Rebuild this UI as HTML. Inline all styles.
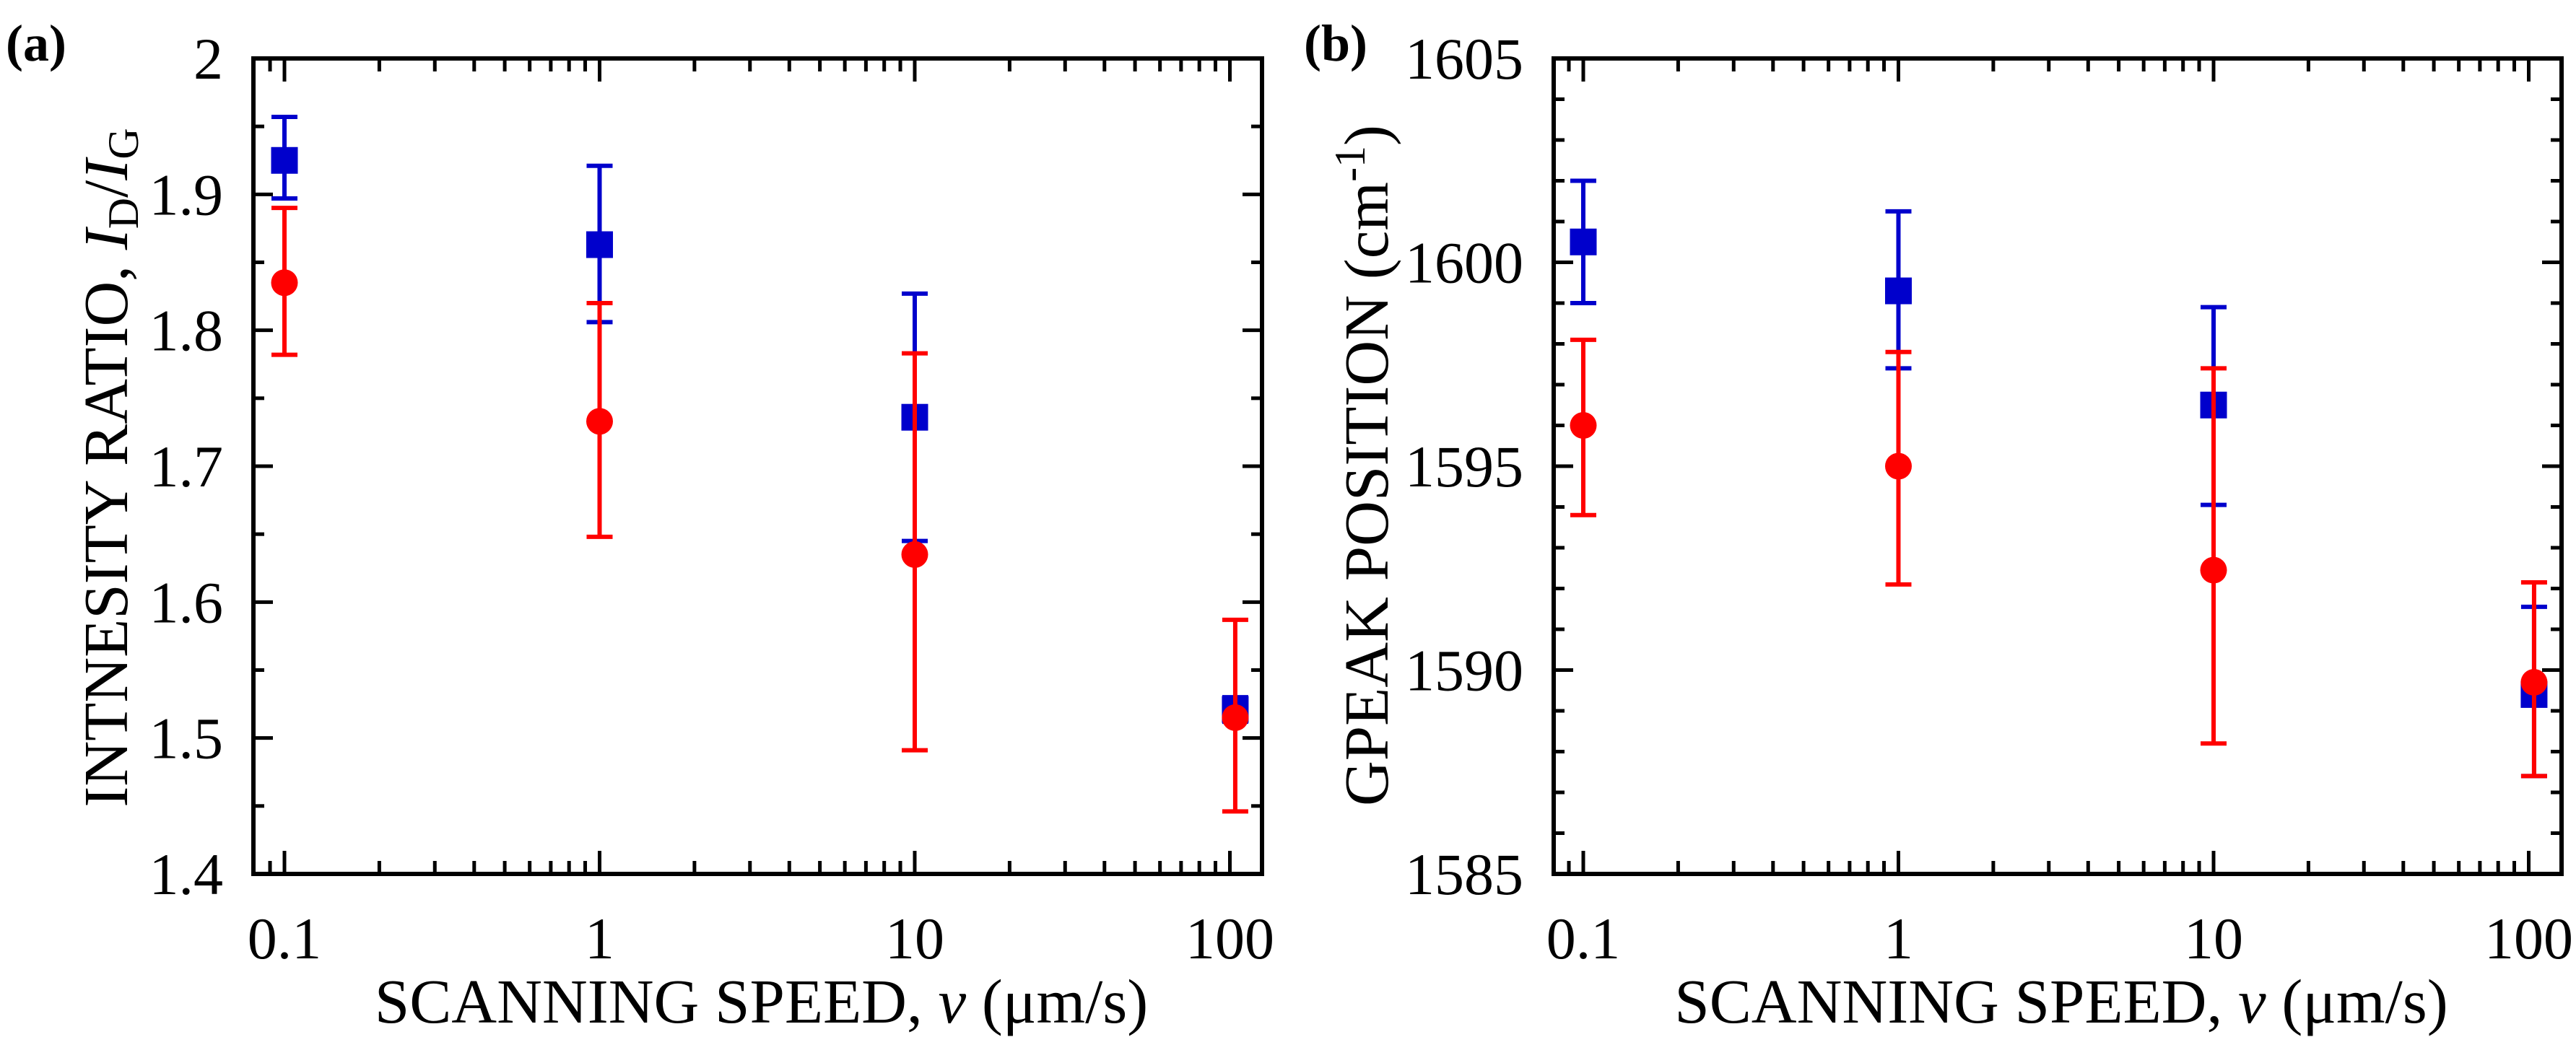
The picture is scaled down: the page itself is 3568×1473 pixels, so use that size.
<!DOCTYPE html>
<html><head><meta charset="utf-8"><style>
html,body{margin:0;padding:0;background:#fff}
svg{display:block;font-family:"Liberation Serif",serif}
</style></head><body>
<svg id="fig" width="3568" height="1473" viewBox="0 0 3568 1473">
<text x="8" y="84" font-size="72" font-weight="bold">(a)</text>
<text x="1806" y="84" font-size="72" font-weight="bold">(b)</text>
<g id="pa"></g>
<g id="pb"></g>
</svg>
<script>
const speeds = [0.1, 1, 10, 104];
const xTickLabels = ["0.1", "1", "10", "100"];
const aBlue = [1.925, 1.863, 1.736, 1.521];
const aBlueHi = [1.957, 1.921, 1.827, 1.53];
const aBlueLo = [1.897, 1.806, 1.645, 1.512];
const aRed = [1.835, 1.733, 1.635, 1.515];
const aRedHi = [1.89, 1.82, 1.783, 1.587];
const aRedLo = [1.782, 1.648, 1.491, 1.446];
const aYTicks = ["1.4", "1.5", "1.6", "1.7", "1.8", "1.9", "2"];
const bBlue = [1600.5, 1599.3, 1596.5, 1589.4];
const bBlueHi = [1602.0, 1601.25, 1598.9, 1591.55];
const bBlueLo = [1599.0, 1597.4, 1594.05, 1587.4];
const bRed = [1596.0, 1595.0, 1592.45, 1589.7];
const bRedHi = [1598.1, 1597.8, 1597.4, 1592.15];
const bRedLo = [1593.8, 1592.1, 1588.2, 1587.4];
const bYTicks = ["1585", "1590", "1595", "1600", "1605"];

const NS = "http://www.w3.org/2000/svg";
function mk(parent, tag, attrs) {
  const e = document.createElementNS(NS, tag);
  for (const k in attrs) e.setAttribute(k, attrs[k]);
  parent.appendChild(e);
  return e;
}
function panel(g, cfg) {
  const L = cfg.L, R = cfg.R, T = 81, B = 1211;
  const dec = 436.5;
  const x0 = cfg.x01;
  const xs = v => x0 + Math.log10(v / 0.1) * dec;
  const ys = v => B - (v - cfg.ymin) / (cfg.ymax - cfg.ymin) * (B - T);
  const fr = mk(g, "rect", {x: L, y: T, width: R - L, height: B - T, fill: "none", stroke: "#000", "stroke-width": 6});
  
  
  for (let e = -2; e <= 2; e++) {
    for (let m = 1; m <= 9; m++) {
      const v = m * Math.pow(10, e);
      const x = xs(v);
      if (x < L + 3 || x > R - 3) continue;
      const len = m === 1 ? 32 : 18;
      const t1 = mk(g, "line", {x1: x, y1: B, x2: x, y2: B - len, stroke: "#000", "stroke-width": 5});
      
      
      const t2 = mk(g, "line", {x1: x, y1: T, x2: x, y2: T + len, stroke: "#000", "stroke-width": 5});
      
      
    }
  }
  xTickLabels.forEach((s, i) => {
    const t = mk(g, "text", {x: xs(Math.pow(10, i - 1)), y: 1328, "font-size": 82, "text-anchor": "middle"});
    t.textContent = s;
    
    
  });
  const nMinor = Math.round((cfg.ymax - cfg.ymin) / cfg.minor);
  for (let k = 0; k <= nMinor; k++) {
    const v = cfg.ymin + k * cfg.minor;
    const y = ys(v);
    const major = k % cfg.majorEvery === 0;
    const len = major ? 27 : 15;
    const a = mk(g, "line", {x1: L, y1: y, x2: L + len, y2: y, stroke: "#000", "stroke-width": 5});
    
    
    const b = mk(g, "line", {x1: R, y1: y, x2: R - len, y2: y, stroke: "#000", "stroke-width": 5});
    
    
  }
  cfg.yTicks.forEach(s => {
    const t = mk(g, "text", {x: L - 42, y: ys(parseFloat(s)) + 28, "font-size": 82, "text-anchor": "end"});
    t.textContent = s;
    
    
  });
  const xt = mk(g, "text", {x: (L + R) / 2 + 5, y: 1417, "font-size": 87, "text-anchor": "middle"});
  xt.innerHTML = 'SCANNING SPEED, <tspan font-style="italic">v</tspan> (μm/s)';
  
  
  const yt = mk(g, "text", {x: 0, y: 0, "font-size": 87, "text-anchor": "middle", transform: `translate(${cfg.ytx},${cfg.yty}) rotate(-90)`});
  yt.innerHTML = cfg.ytitle;
  
  
  function series(vals, hi, lo, color, shape, name) {
    vals.forEach((v, i) => {
      const x = xs(speeds[i]);
      const eb = mk(g, "path", {d: `M${x},${ys(lo[i])}V${ys(hi[i])}M${x - 18},${ys(lo[i])}h36M${x - 18},${ys(hi[i])}h36`, stroke: color, "stroke-width": 6, fill: "none"});
      
      
      let m;
      if (shape === "sq") m = mk(g, "rect", {x: x - 18.5, y: ys(v) - 18.5, width: 37, height: 37, fill: color});
      else m = mk(g, "circle", {cx: x, cy: ys(v), r: 18.5, fill: color});
      
      
    });
  }
  series(cfg.blue, cfg.blueHi, cfg.blueLo, "#0000cc", "sq", "blue-series");
  series(cfg.red, cfg.redHi, cfg.redLo, "#ff0000", "ci", "red-series");
}
panel(document.getElementById("pa"), {L: 351, R: 1748, x01: 394, ymin: 1.4, ymax: 2, minor: 0.05, majorEvery: 2,
  yTicks: aYTicks, blue: aBlue, blueHi: aBlueHi, blueLo: aBlueLo, red: aRed, redHi: aRedHi, redLo: aRedLo,
  ytx: 176, yty: 648, ytitle: 'INTNESITY RATIO, <tspan font-style="italic">I</tspan><tspan font-size="60" dy="15">D</tspan><tspan dy="-15">/</tspan><tspan font-style="italic">I</tspan><tspan font-size="60" dy="15">G</tspan>'});
panel(document.getElementById("pb"), {L: 2152, R: 3548, x01: 2193, ymin: 1585, ymax: 1605, minor: 1, majorEvery: 5,
  yTicks: bYTicks, blue: bBlue, blueHi: bBlueHi, blueLo: bBlueLo, red: bRed, redHi: bRedHi, redLo: bRedLo,
  ytx: 1922, yty: 645, ytitle: 'GPEAK POSITION (cm<tspan font-size="60" dy="-32">-1</tspan><tspan dy="32">)</tspan>'});
</script>
</body></html>
